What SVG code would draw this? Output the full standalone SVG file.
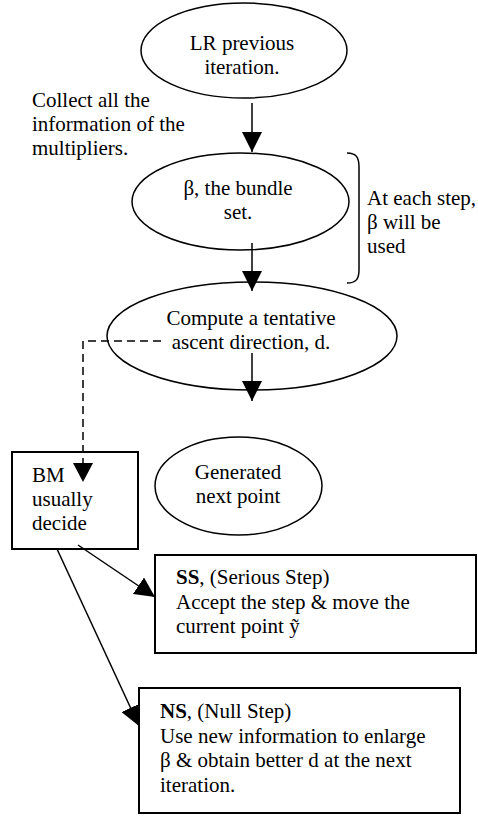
<svg xmlns="http://www.w3.org/2000/svg" width="478" height="816" viewBox="0 0 478 816">
<style>
text{font-family:"Liberation Serif","Times New Roman",serif;font-size:21px;fill:#000}
.c{text-anchor:middle}
.shape{fill:#fff;stroke:#000;stroke-width:1.5}
.box{fill:#fff;stroke:#000;stroke-width:2}
.ln{fill:none;stroke:#000;stroke-width:1.5}
.dash{fill:none;stroke:#000;stroke-width:1.5;stroke-dasharray:8,5}
</style>
<defs>
<marker id="ah" markerUnits="userSpaceOnUse" markerWidth="20" markerHeight="20" refX="20" refY="10" orient="auto" viewBox="0 0 20 20">
<path d="M0,0 L20,10 L0,20 Z" fill="#000"/>
</marker>
</defs>
<rect width="478" height="816" fill="#fff"/>
<g id="n-lr">
<ellipse class="shape" cx="244" cy="50.5" rx="103" ry="47.5"/>
<text class="c" x="242" y="50">LR previous</text>
<text class="c" x="242" y="74">iteration.</text>
</g>
<g id="n-beta">
<ellipse class="shape" cx="240.5" cy="201.5" rx="108.5" ry="48.5"/>
<text class="c" x="238" y="195">β, the bundle</text>
<text class="c" x="238" y="219">set.</text>
</g>
<g id="n-compute">
<ellipse class="shape" cx="252" cy="336" rx="145" ry="54"/>
<text class="c" x="251" y="325">Compute a tentative</text>
<text class="c" x="251" y="349">ascent direction, d.</text>
</g>
<g id="n-generated">
<ellipse class="shape" cx="238.5" cy="486" rx="83.5" ry="49"/>
<text class="c" x="238" y="479">Generated</text>
<text class="c" x="238" y="503">next point</text>
</g>
<g id="n-bm">
<rect class="box" x="12" y="452" width="126" height="97"/>
<text x="32" y="482">BM</text>
<text x="32" y="506">usually</text>
<text x="32" y="530">decide</text>
</g>
<g id="n-ss">
<rect class="box" x="155" y="555" width="321" height="98"/>
<text x="176" y="584"><tspan font-weight="bold">SS</tspan>, (Serious Step)</text>
<text x="176" y="609">Accept the step &amp; move the</text>
<text x="176" y="633">current point ỹ</text>
</g>
<g id="n-ns">
<rect class="box" x="139" y="688" width="321" height="125"/>
<text x="160" y="718"><tspan font-weight="bold">NS</tspan>, (Null Step)</text>
<text x="160" y="743">Use new information to enlarge</text>
<text x="160" y="767">β &amp; obtain better d at the next</text>
<text x="160" y="792">iteration.</text>
</g>
<g id="annotations">
<text x="32" y="107">Collect all the</text>
<text x="32" y="131">information of the</text>
<text x="32" y="155">multipliers.</text>
<path class="ln" d="M347,153 C356,153 359,157 359,167 L359,270 C359,279 356,283 347,283"/>
<text x="367" y="205">At each step,</text>
<text x="367" y="229">β will be</text>
<text x="367" y="253">used</text>
</g>
<g id="connectors">
<line class="ln" x1="252" y1="103" x2="252" y2="152" marker-end="url(#ah)"/>
<line class="ln" x1="252" y1="243" x2="252" y2="291" marker-end="url(#ah)"/>
<line class="ln" x1="252" y1="353" x2="252" y2="401" marker-end="url(#ah)"/>
<path class="dash" d="M161,341 L83,341 L83,470"/>
<path d="M73,463 L93,463 L83,482 Z" fill="#000"/>
<line class="ln" x1="78" y1="545" x2="155" y2="597" marker-end="url(#ah)"/>
<line class="ln" x1="57" y1="549" x2="139" y2="726" marker-end="url(#ah)"/>
</g>
</svg>
